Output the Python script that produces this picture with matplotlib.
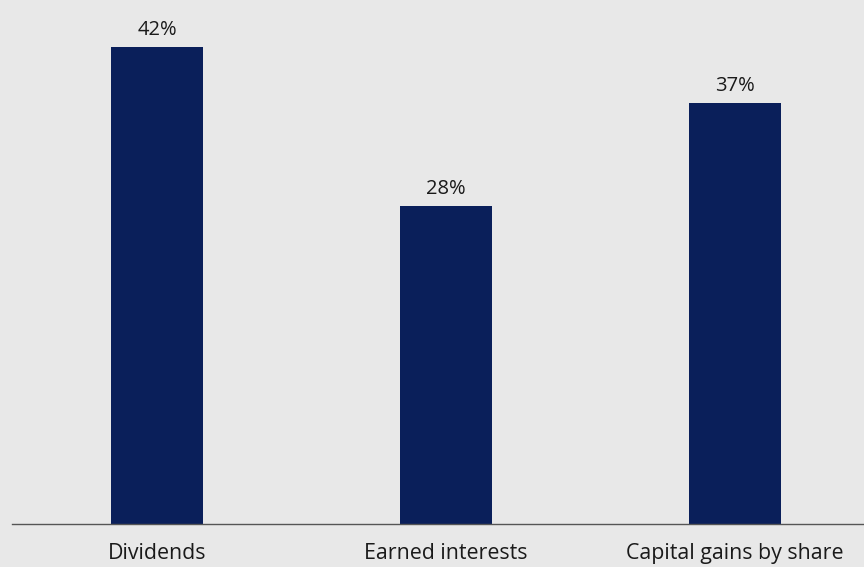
import matplotlib
matplotlib.use("Agg")
import matplotlib.pyplot as plt

categories = ["Dividends", "Earned interests", "Capital gains by share"]
values = [42, 28, 37]
value_labels = ["42%", "28%", "37%"]

bg = "#e8e8e8"
bar_color = "#0a1f5a"

fig = plt.figure(figsize=(8.64, 5.67), dpi=100, facecolor=bg)
ax = fig.add_axes([12/864, (567-524)/567, 852/864, 524/567], facecolor=bg)

x = list(range(len(categories)))
ax.bar(x, values, width=0.318, color=bar_color, zorder=2)
for xi, v, lab in zip(x, values, value_labels):
    ax.annotate(lab, (xi, v), xytext=(0, 5), textcoords="offset points",
                ha="center", va="bottom", fontsize=14.5, family="Open Sans", color="#1a1a1a")

ax.set_xlim(-0.502, 2.446)
ax.set_ylim(0, 46.1)
ax.set_xticks(x)
ax.set_xticklabels(categories, fontsize=15.4, family="Open Sans", color="#1a1a1a")
ax.tick_params(axis="x", length=0, pad=14)
ax.set_yticks([])
for s in ["top", "right", "left"]:
    ax.spines[s].set_visible(False)
ax.spines["bottom"].set_color("#555555")
ax.spines["bottom"].set_linewidth(1.0)

fig.savefig("out.png", dpi=100, facecolor=bg)
